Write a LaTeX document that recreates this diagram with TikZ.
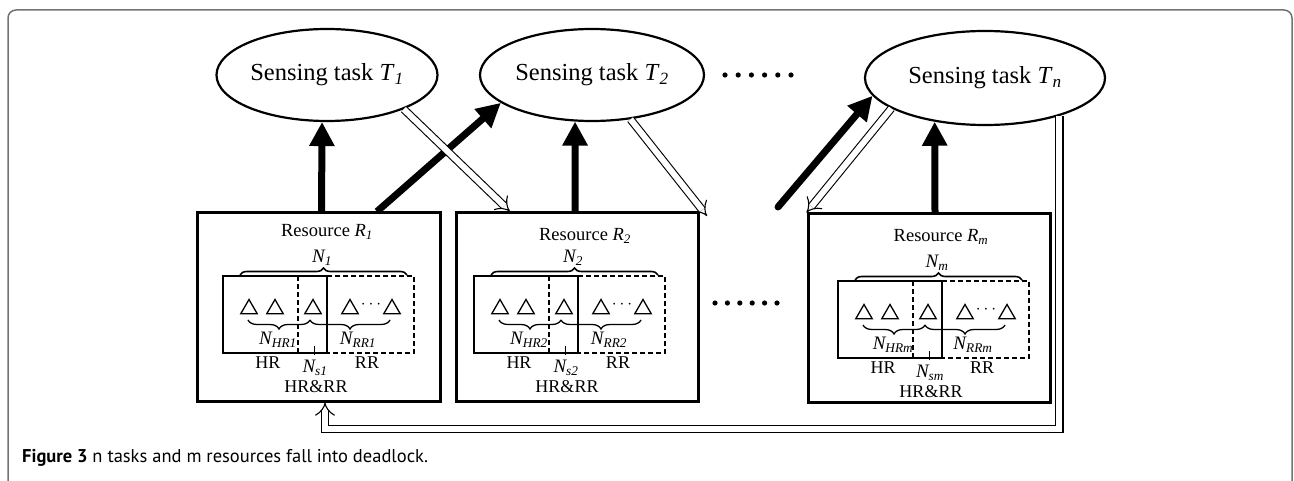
\documentclass[tikz,border=0pt]{standalone}
\usepackage{fontspec}
\setmainfont{Liberation Serif}
\newfontfamily\capfont{PT Sans}
\usetikzlibrary{arrows.meta,shapes.geometric,decorations.pathreplacing,calc}

\tikzset{
  task/.style={draw,line width=2.2pt,ellipse,minimum width=221pt,minimum height=92pt,
    inner sep=0pt,font=\fontsize{24.5}{28}\selectfont},
  resbox/.style={draw,line width=3pt,minimum width=243pt,minimum height=188pt,inner sep=0pt},
  lbl/.style={inner sep=0pt,font=\fontsize{18}{20}\selectfont},
  nlbl/.style={inner sep=0pt,font=\fontsize{19}{21}\selectfont\itshape},
  hold/.style={line width=7pt,-{Triangle[length=24pt,width=24pt]}},
  req/.style={draw=black,line width=1.1pt,double=white,double distance=6pt,-{Implies}},
  tri/.style={draw,line width=1.3pt,regular polygon,regular polygon sides=3,
    minimum size=19pt,inner sep=0pt},
  bracetop/.style={line width=1.6pt,decorate,decoration={brace,amplitude=7pt}},
  bracelow/.style={line width=1.3pt,decorate,decoration={brace,amplitude=9pt,mirror}},
  % one resource pool: hard (solid) and reusable (dashed) resources
  pool/.pic={
    \draw[line width=1.2pt] (0,0) rectangle (104,77);
    \draw[line width=1.2pt,dash pattern=on 5pt off 3pt] (75,0) rectangle (191,77);
    \draw[bracetop] (17,-1) -- (184,-1);
    \node[nlbl] (-n) at (99,-18) {N\textsubscript{#1}};
    \foreach \x/\k in {26/a,52/b,90/c,127/d,169/e} \node[tri] (-\k) at (\x,33) {};
    \node[inner sep=0pt,font=\fontsize{19}{21}\selectfont] (-dots) at (148,29) {$\cdots$};
    \draw[bracelow] (25,44) -- (87,44);
    \draw[bracelow] (87,44) -- (167,44);
    \node[nlbl] (-nhr) at (55,64) {N\textsubscript{HR#1}};
    \node[nlbl] (-nrr) at (135,64) {N\textsubscript{RR#1}};
    \coordinate (-tick) at (91,70);
    \draw[line width=1pt] (-tick) -- (91,79);
    \node[nlbl] (-ns) at (92,92) {N\textsubscript{s#1}};
    \node[lbl] (-hr) at (45,87) {HR};
    \node[lbl] (-rr) at (144,87) {RR};
    \node[lbl] (-both) at (93,111) {HR\&RR};
  }
}

\begin{document}
\begin{tikzpicture}[x=1pt,y=-1pt]
\useasboundingbox (0,0) rectangle (1294,481);

% outer frame
\draw[black!55,line width=1.5pt,rounded corners=8pt] (8,481) -- (8,10) -- (1292,10) -- (1292,481);

% sensing tasks
\node[task] (T1) at (327,75) {Sensing task \textit{T}\textsubscript{\textit{1}}};
\node[task,minimum width=224pt] (T2) at (592,75) {Sensing task \textit{T}\textsubscript{\textit{2}}};
\node[task,minimum width=240pt,minimum height=94pt] (Tn) at (985,78) {Sensing task \textit{T}\textsubscript{\textit{n}}};
\foreach \i in {0,...,5} \fill (725+13.2*\i,75) circle (2.6pt);

% resources
\node[resbox] (R1) at (318.5,307) {};
\node[resbox,minimum width=242pt] (R2) at (577,307) {};
\node[resbox,minimum width=242pt] (Rm) at (929,308) {};
\foreach \i in {0,...,5} \fill (715+12.4*\i,303) circle (2.6pt);

\node[lbl,font=\fontsize{18.5}{20}\selectfont] (R1t) at (327,232) {Resource \textit{R}\textsubscript{\textit{1}}};
\node[lbl,font=\fontsize{18.5}{20}\selectfont] (R2t) at (585,236) {Resource \textit{R}\textsubscript{\textit{2}}};
\node[lbl,font=\fontsize{18.5}{20}\selectfont] (Rmt) at (941,237) {Resource \textit{R}\textsubscript{\textit{m}}};

\pic (P1) at (223,276) {pool=1};
\pic (P2) at (474,276) {pool=2};
\pic (Pm) at (838,281) {pool=m};

% free ends
\coordinate (gap) at (778,207);
\coordinate (gapR) at (707,216);
\coordinate (back) at (0,429);

% held resources
\draw[hold] ([xshift=3pt]R1.north) -- (T1.-96);
\draw[hold] ([xshift=58.5pt]R1.north) -- (T2.-163);
\draw[hold] ([xshift=-2pt]R2.north) -- (T2.-110.5);
\draw[hold,line cap=round] (gap) -- (Tn.-171.6);
\draw[hold] ([xshift=6pt]Rm.north) -- (Tn.-139.3);

% requested resources
\draw[req] (T1.-24) -- ([xshift=-67pt]R2.north);
\draw[req] (T2.-49) -- (gapR);
\draw[req] (Tn.-162) -- (Rm.north west);
\draw[req] (Tn.-27) -- (Tn.-27 |- back) -| ([xshift=6.5pt]R1.south);

% caption
\node[anchor=west,inner sep=0pt,font=\capfont\fontsize{18.5}{21}\selectfont] (cap) at (22,458)
  {\textbf{Figure 3} n tasks and m resources fall into deadlock.};
\end{tikzpicture}
\end{document}
